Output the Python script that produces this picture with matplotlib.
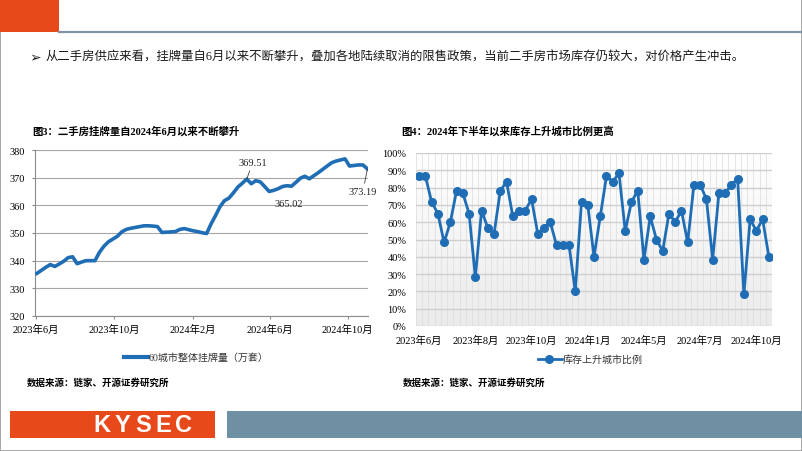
import matplotlib
matplotlib.use('Agg')
import matplotlib.pyplot as plt
from matplotlib.patches import Rectangle
from matplotlib.lines import Line2D
from matplotlib.colors import LinearSegmentedColormap
import numpy as np
import pandas as pd

plt.rcParams['font.family'] = ['Liberation Serif', 'Noto Sans CJK SC', 'DejaVu Sans']

# 图3: 60城市整体挂牌量（万套）, weekly
listing_dates = pd.date_range('2023-06-02', periods=75, freq='7D')
listing_values = [335.4, 336.5, 337.6, 338.6, 337.9, 338.8, 339.8, 341.1, 341.4, 338.9,
                  339.5, 340.0, 340.0, 340.0, 343.0, 345.2, 346.8, 347.8, 348.8, 350.4,
                  351.3, 351.7, 352.0, 352.3, 352.6, 352.6, 352.5, 352.3, 350.2, 350.3,
                  350.4, 350.5, 351.3, 351.6, 351.2, 350.8, 350.5, 350.1, 349.8, 353.3,
                  356.3, 359.5, 361.7, 362.6, 364.5, 366.6, 368.0, 369.51, 367.8, 368.9,
                  368.5, 366.8, 365.02, 365.4, 366.0, 366.8, 367.1, 366.9, 368.3, 369.8,
                  370.5, 369.6, 370.7, 371.8, 373.0, 374.2, 375.4, 376.0, 376.4, 376.8,
                  374.2, 374.4, 374.6, 374.6, 373.19]
listing_ticks = ['2023-06-01', '2023-10-01', '2024-02-01', '2024-06-01', '2024-10-01']
listing_ticklabels = ['2023年6月', '2023年10月', '2024年2月', '2024年6月', '2024年10月']
listing_marked = [47, 52, 74]
listing_name = '60城市整体挂牌量（万套）'

# 图4: 库存上升城市比例 (%)
ratio_values = [86.7, 86.7, 71.7, 65.0, 48.3, 60.0, 78.3, 76.7, 65.0, 28.3,
                66.7, 56.7, 53.3, 78.3, 83.3, 63.3, 66.7, 66.7, 73.3, 53.3,
                56.7, 60.0, 46.7, 46.7, 46.7, 20.0, 71.7, 70.0, 40.0, 63.3,
                86.7, 83.3, 88.3, 55.0, 71.7, 78.3, 38.3, 63.3, 50.0, 43.3,
                65.0, 60.0, 66.7, 48.3, 81.7, 81.7, 73.3, 38.3, 76.7, 76.7,
                81.7, 85.0, 18.3, 61.7, 55.0, 61.7, 40.0]
ratio_ticklabels = {0: '2023年6月', 9: '2023年8月', 18: '2023年10月', 27: '2024年1月',
                    36: '2024年5月', 45: '2024年7月', 54: '2024年10月'}
ratio_name = '库存上升城市比例'

W, H = 802, 452
BLUE = '#1f6db5'
ORANGE = '#e8491a'

def fx(x):
    return x / W

def fy(y):
    return 1 - y / H

fig = plt.figure(figsize=(W / 100, H / 100), dpi=100)

# ---- page decoration
fig.add_artist(Rectangle((0, 0), 1, 1, transform=fig.transFigure, fill=False,
                         edgecolor='#9a9a9a', lw=1.2))
fig.add_artist(Rectangle((0, fy(33)), fx(59), 33 / H, transform=fig.transFigure,
                         facecolor=ORANGE, edgecolor='none'))
fig.add_artist(Line2D([fx(59), 1], [fy(33), fy(33)], transform=fig.transFigure,
                      color='#7f95a6', lw=1.6))
fig.text(fx(29), fy(58), '➢', fontsize=10, va='center', family='DejaVu Sans', color='#222222')
fig.text(fx(45), fy(58), '从二手房供应来看，挂牌量自6月以来不断攀升，叠加各地陆续取消的限售政策，'
         '当前二手房市场库存仍较大，对价格产生冲击。', fontsize=8.9, va='center', color='#1a1a1a')

fig.add_artist(Rectangle((fx(10), fy(439)), 205 / W, 27 / H, transform=fig.transFigure,
                         facecolor=ORANGE, edgecolor='none'))
fig.add_artist(Rectangle((fx(227), fy(439)), (802 - 227) / W, 27 / H, transform=fig.transFigure,
                         facecolor='#6f8fa3', edgecolor='none'))
for k, ch in enumerate('KYSEC'):
    fig.text(fx(102 + k * 20.5), fy(426), ch, fontsize=17, weight='bold', color='white',
             ha='center', va='center', family='Liberation Sans')

# ---- titles and sources
fig.text(fx(32), fy(131), '图3：二手房挂牌量自2024年6月以来不断攀升', fontsize=7.5,
         weight='bold', va='center')
fig.text(fx(401), fy(131), '图4：2024年下半年以来库存上升城市比例更高', fontsize=7.5,
         weight='bold', va='center')
fig.text(fx(27), fy(383), '数据来源：链家、开源证券研究所', fontsize=6.8, weight='bold', va='center')
fig.text(fx(403), fy(383), '数据来源：链家、开源证券研究所', fontsize=6.8, weight='bold', va='center')

# ---- left chart
ax1 = fig.add_axes([fx(35), fy(317), 333 / W, 166 / H])
ax1.plot(listing_dates, listing_values, color=BLUE, lw=2.6, solid_joinstyle='round', zorder=3)
ax1.set_ylim(320, 380)
ax1.set_yticks(range(320, 381, 10))
ax1.set_xlim(pd.Timestamp('2023-05-30'), pd.Timestamp('2024-11-02'))
ax1.set_xticks(pd.to_datetime(listing_ticks), listing_ticklabels)
ax1.yaxis.grid(True, color='#a6a6a6', lw=0.8)
ax1.set_axisbelow(True)
for s in ['top', 'right']:
    ax1.spines[s].set_visible(False)
for s in ['left', 'bottom']:
    ax1.spines[s].set_color('#8c8c8c')
    ax1.spines[s].set_linewidth(0.8)
ax1.tick_params(labelsize=7.5, length=2.5, color='#8c8c8c', width=0.8)
ax1.tick_params(axis='y', pad=5)
ax1.tick_params(axis='x', pad=3)

note_offsets = {47: (4.3, 12.2), 52: (14.3, -8.4), 74: (-3.2, -16.6)}
for i in listing_marked:
    arrow = None if i == 52 else dict(arrowstyle='-', color='#404040', lw=0.6,
                                      shrinkA=1, shrinkB=0)
    ax1.annotate(f'{listing_values[i]:.2f}', (listing_dates[i], listing_values[i]),
                 xytext=note_offsets[i], textcoords='offset points', ha='center',
                 va='center', fontsize=7.5, color='#222222', arrowprops=arrow,
                 annotation_clip=False)

fig.add_artist(Line2D([fx(124), fx(148)], [fy(358), fy(358)], transform=fig.transFigure,
                      color=BLUE, lw=3))
fig.text(fx(149), fy(358), listing_name, fontsize=7.2, va='center', color='#333333')

# ---- right chart
ax2 = fig.add_axes([fx(416), fy(327), 356 / W, 173 / H])
n = len(ratio_values)
grad = LinearSegmentedColormap.from_list('g', ['#ebebeb', '#ffffff'])
ax2.imshow(np.linspace(0, 1, 256).reshape(-1, 1), extent=[-0.5, n - 0.5, 0, 100],
           aspect='auto', cmap=grad, origin='lower', zorder=0)
for b in np.arange(-0.5, n, 1.0):
    ax2.axvline(b, color='#dcdcdc', lw=0.5, zorder=1)
ax2.plot(range(n), ratio_values, color=BLUE, lw=2, marker='o', ms=5.5, zorder=3)
ax2.set_xlim(-0.5, n - 0.5)
ax2.set_ylim(0, 100)
ax2.set_yticks(range(0, 101, 10), [f'{v}%' for v in range(0, 101, 10)])
ax2.set_xticks(list(ratio_ticklabels.keys()), list(ratio_ticklabels.values()))
ax2.yaxis.grid(True, color='#cfcfcf', lw=1.0, zorder=2)
for s in ax2.spines.values():
    s.set_visible(False)
ax2.tick_params(labelsize=7.5, length=0)
ax2.tick_params(axis='y', pad=7)
ax2.tick_params(axis='x', pad=6)

fig.add_artist(Line2D([fx(538), fx(549), fx(562)], [fy(360)] * 3, transform=fig.transFigure,
                      color=BLUE, lw=2, marker='o', ms=5.5, markevery=[1]))
fig.text(fx(563), fy(360), ratio_name, fontsize=7.2, va='center', color='#333333')

fig.savefig('out.png', dpi=100)
